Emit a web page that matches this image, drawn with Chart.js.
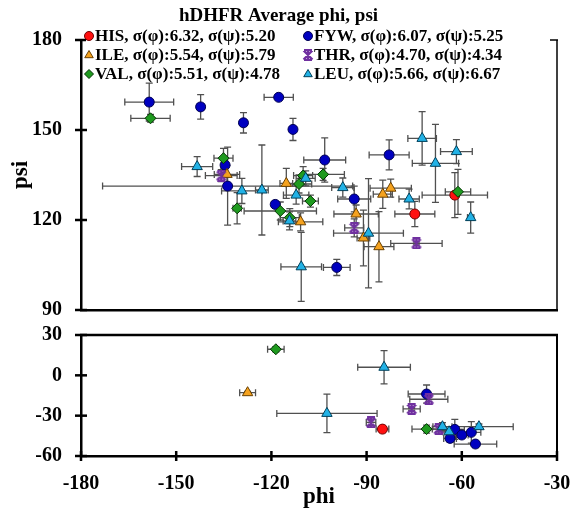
<!DOCTYPE html>
<html>
<head>
<meta charset="utf-8">
<script src="https://cdn.jsdelivr.net/npm/chart.js@4.4.1/dist/chart.umd.min.js"></script>
<style>
  html, body { margin: 0; padding: 0; background: #fff; }
  #wrap { position: relative; width: 571px; height: 518px; }
  #topChart { position: absolute; left: 0; top: 0; }
  #bottomChart { position: absolute; left: 0; top: 318px; }
</style>
</head>
<body>
<div id="wrap">
  <canvas id="topChart" width="571" height="322"></canvas>
  <canvas id="bottomChart" width="571" height="200"></canvas>
</div>
<script>
// each point: [phi, psi, phi error, psi error]
const his = [
    [-74.8, 122.0, 6.3, 4.2], [-62.2, 128.3, 10.3, 7.5],
    [-85.0, -40.0, 2.0, 1.0]
];
const fyw = [
    [-158.5, 159.3, 7.7, 6.3], [-142.3, 157.7, 1.0, 4.1], [-128.8, 152.4, 1.0, 3.4],
    [-117.7, 160.9, 4.6, 0.5], [-113.2, 150.2, 0.8, 3.7], [-103.2, 140.0, 6.6, 7.4],
    [-82.9, 141.7, 6.3, 5.0], [-134.6, 138.3, 1.0, 2.5], [-133.8, 131.3, 39.4, 13.0],
    [-118.8, 125.2, 1.0, 1.0], [-93.9, 127.0, 5.2, 4.3], [-99.4, 104.2, 4.2, 2.7],
    [-71.1, -13.9, 5.8, 6.7], [-62.2, -40.2, 3.0, 7.4], [-63.7, -46.9, 2.0, 3.0],
    [-60.0, -44.4, 2.0, 2.0], [-57.0, -42.4, 3.0, 8.0], [-55.7, -51.1, 6.7, 2.0]
];
const ile = [
    [-134.0, 135.2, 4.0, 3.0], [-115.3, 132.2, 2.0, 5.0], [-110.8, 119.4, 7.0, 3.0],
    [-93.3, 122.0, 7.0, 3.0], [-91.0, 114.0, 2.0, 9.3], [-86.1, 111.1, 4.7, 11.7],
    [-84.9, 128.6, 3.0, 4.7], [-82.4, 130.6, 6.5, 3.0],
    [-127.5, -12.9, 2.5, 1.0]
];
const thr = [
    [-135.8, 134.8, 5.0, 2.0], [-93.9, 117.4, 3.0, 3.0], [-74.3, 112.2, 8.1, 0.5],
    [-88.6, -35.0, 1.5, 2.5], [-70.4, -17.8, 6.0, 1.5], [-75.8, -25.0, 2.7, 1.0],
    [-67.3, -40.0, 2.0, 2.0]
];
const val = [
    [-158.1, 153.9, 6.2, 1.3], [-135.1, 140.6, 3.0, 3.3], [-130.8, 123.9, 1.3, 5.2],
    [-117.2, 123.0, 11.4, 3.0], [-114.2, 120.8, 3.0, 3.0], [-107.7, 126.3, 2.5, 2.0],
    [-103.7, 135.2, 6.7, 2.0], [-111.3, 132.0, 4.0, 3.0], [-110.0, 134.8, 3.0, 3.0],
    [-61.2, 129.4, 4.0, 7.5],
    [-118.6, 19.4, 2.6, 2.0], [-71.1, -40.0, 4.6, 3.0]
];
const leu = [
    [-143.4, 137.8, 4.9, 3.3], [-129.3, 129.7, 6.4, 4.2], [-123.0, 130.0, 2.0, 15.0],
    [-114.3, 119.7, 2.0, 3.0], [-112.2, 128.3, 4.0, 3.0], [-110.6, 104.4, 6.4, 11.5],
    [-109.2, 133.9, 3.0, 2.5], [-97.5, 130.8, 3.5, 3.2], [-89.4, 115.6, 11.0, 18.2],
    [-76.6, 127.0, 3.2, 3.3], [-72.5, 147.2, 4.5, 8.9], [-68.3, 138.9, 7.3, 13.0],
    [-61.7, 142.8, 5.0, 4.0], [-57.2, 120.8, 1.0, 5.2],
    [-102.5, -28.3, 15.8, 14.3], [-84.5, 6.0, 8.3, 12.4], [-66.1, -38.2, 3.0, 3.0],
    [-64.0, -42.0, 2.0, 2.0], [-54.6, -38.2, 10.8, 2.0]
];

const seriesNames = ["HIS", "FYW", "ILE", "THR", "VAL", "LEU"];
const sigmaPhi = [6.32, 6.07, 5.54, 4.70, 5.51, 5.66];
const sigmaPsi = [5.20, 5.25, 5.79, 4.34, 4.78, 6.67];
const seriesData = [his, fyw, ile, thr, val, leu];

const phiRange = [-180, -30];
const psiTopRange = [90, 180];
const psiBottomRange = [-60, 30];
const tickStep = 30;

const FONT = "'Liberation Serif', 'Times New Roman', serif";

// THR marker: purple asterisk with bars
function makeStar() {
    const c = document.createElement("canvas");
    c.width = 12; c.height = 12;
    const g = c.getContext("2d");
    g.strokeStyle = "#7030a0";
    g.lineWidth = 2.2;
    g.beginPath();
    g.moveTo(1.5, 1.5); g.lineTo(10.5, 10.5);
    g.moveTo(10.5, 1.5); g.lineTo(1.5, 10.5);
    g.moveTo(6, 1); g.lineTo(6, 11);
    g.moveTo(2, 1.2); g.lineTo(10, 1.2);
    g.moveTo(2, 10.8); g.lineTo(10, 10.8);
    g.stroke();
    return c;
}
const starImg = makeStar();

const styles = ["circle", "circle", "triangle", starImg, "rectRot", "triangle"];
const radii = [5, 5, 6, 6, 5.5, 6];
const fills = ["#ff1010", "#0000c0", "#f5a21e", "#7030a0", "#1f9a1f", "#22b2e6"];
const edges = ["#700000", "#000050", "#6a4000", "#7030a0", "#003300", "#00405a"];

function buildDatasets(keep) {
    return seriesNames.map((name, i) => ({
        label: `${name}, σ(φ):${sigmaPhi[i].toFixed(2)}, σ(ψ):${sigmaPsi[i].toFixed(2)}`,
        data: seriesData[i]
            .filter(p => keep(p[1]))
            .map(p => ({ x: p[0], y: p[1], xErr: p[2], yErr: p[3] })),
        order: seriesNames.length - 1 - i,   // later series drawn on top
        pointStyle: styles[i],
        pointRadius: radii[i],
        backgroundColor: fills[i],
        borderColor: edges[i],
        borderWidth: 1,
        showLine: false
    }));
}

/* error bars, drawn under the markers */
const errorBarPlugin = {
    id: "errorBars",
    beforeDatasetsDraw(chart) {
        const { ctx, chartArea: a, scales: { x, y } } = chart;
        const cap = 3.5;
        ctx.save();
        ctx.beginPath();
        ctx.rect(a.left, a.top, a.right - a.left, a.bottom - a.top);
        ctx.clip();
        ctx.strokeStyle = "#505050";
        ctx.lineWidth = 1.3;
        chart.data.datasets.forEach(ds => ds.data.forEach(p => {
            const px = x.getPixelForValue(p.x);
            const py = y.getPixelForValue(p.y);
            const x0 = x.getPixelForValue(p.x - p.xErr);
            const x1 = x.getPixelForValue(p.x + p.xErr);
            const y0 = y.getPixelForValue(p.y - p.yErr);
            const y1 = y.getPixelForValue(p.y + p.yErr);
            ctx.beginPath();
            ctx.moveTo(x0, py); ctx.lineTo(x1, py);
            ctx.moveTo(x0, py - cap); ctx.lineTo(x0, py + cap);
            ctx.moveTo(x1, py - cap); ctx.lineTo(x1, py + cap);
            ctx.moveTo(px, y0); ctx.lineTo(px, y1);
            ctx.moveTo(px - cap, y0); ctx.lineTo(px + cap, y0);
            ctx.moveTo(px - cap, y1); ctx.lineTo(px + cap, y1);
            ctx.stroke();
        }));
        ctx.restore();
    }
};

/* top/right frame and cross tick marks */
const framePlugin = {
    id: "frame",
    afterDatasetsDraw(chart, args, opts) {
        const { ctx, chartArea: a, scales } = chart;
        const line = (x0, y0, x1, y1, w) => {
            ctx.lineWidth = w;
            ctx.beginPath(); ctx.moveTo(x0, y0); ctx.lineTo(x1, y1); ctx.stroke();
        };
        ctx.save();
        ctx.strokeStyle = "#000";
        line(a.left - 1, a.top, a.right + 1, a.top, opts.topWidth);
        line(a.right, a.top, a.right, a.bottom, opts.rightWidth);
        scales.y.ticks.forEach(t => {
            const y = scales.y.getPixelForValue(t.value);
            line(a.left - 6, y, a.left + 6, y, 2.5);
        });
        if (opts.xTicks) {
            scales.x.ticks.forEach(t => {
                const x = scales.x.getPixelForValue(t.value);
                line(x, a.bottom - 5, x, a.bottom + 5, 2.5);
            });
        }
        ctx.restore();
    }
};

/* two-column legend sitting over the top of the plot */
function drawMarker(ctx, style, x, y, r, fill, edge) {
    if (typeof style !== "string") {
        ctx.drawImage(style, x - style.width / 2, y - style.height / 2);
        return;
    }
    ctx.fillStyle = fill;
    ctx.strokeStyle = edge;
    ctx.lineWidth = 1;
    ctx.beginPath();
    if (style === "circle") {
        ctx.arc(x, y, r, 0, Math.PI * 2);
    } else if (style === "triangle") {
        ctx.moveTo(x, y - r);
        ctx.lineTo(x + r * 0.95, y + r * 0.6);
        ctx.lineTo(x - r * 0.95, y + r * 0.6);
        ctx.closePath();
    } else {
        ctx.moveTo(x, y - r); ctx.lineTo(x + r, y);
        ctx.lineTo(x, y + r); ctx.lineTo(x - r, y);
        ctx.closePath();
    }
    ctx.fill();
    ctx.stroke();
}

const legendPlugin = {
    id: "boxLegend",
    afterDraw(chart, args, opts) {
        if (!opts.show) return;
        const { ctx } = chart;
        ctx.save();
        ctx.fillStyle = "#fff";
        ctx.fillRect(86, 27, 464, 55);
        ctx.font = `bold 17px ${FONT}`;
        ctx.textBaseline = "middle";
        chart.data.datasets.forEach((ds, i) => {
            const col = i % 2, row = Math.floor(i / 2);
            const mx = col === 0 ? 89 : 308;
            const my = 36 + row * 19;
            drawMarker(ctx, styles[i], mx, my, 4.5, fills[i], edges[i]);
            ctx.fillStyle = "#000";
            ctx.fillText(ds.label, mx + 6, my + 1);
        });
        ctx.restore();
    }
};

const tickFont = { family: FONT, size: 20, weight: "bold" };

function yAxis(range, withTitle) {
    return {
        type: "linear",
        min: range[0],
        max: range[1],
        ticks: { stepSize: tickStep, font: tickFont, color: "#000", padding: 19 },
        grid: { display: false, drawTicks: false },
        border: { display: true, color: "#000", width: 2.5 },
        title: {
            display: withTitle,
            text: "psi",
            font: { family: FONT, size: 23, weight: "bold" },
            color: "#000",
            padding: { top: 7, bottom: 0 }
        },
        afterFit(scale) {
            scale.width = 81;
            scale.paddingTop = 0;
            scale.paddingBottom = 0;
        }
    };
}

function xAxis(showLabels) {
    return {
        type: "linear",
        min: phiRange[0],
        max: phiRange[1],
        ticks: { display: showLabels, stepSize: tickStep, font: tickFont, color: "#000", padding: 16 },
        grid: { display: false, drawTicks: false },
        border: { display: true, color: "#000", width: 2.5 },
        title: {
            display: showLabels,
            text: "phi",
            font: { family: FONT, size: 23, weight: "bold" },
            color: "#000",
            padding: { top: 0, bottom: 7 }
        },
        afterFit(scale) {
            scale.height = showLabels ? 62 : 0;
            scale.paddingLeft = 0;
            scale.paddingRight = 0;
        }
    };
}

Chart.defaults.font.family = FONT;

new Chart(document.getElementById("topChart"), {
    type: "scatter",
    data: { datasets: buildDatasets(v => v > 60) },
    options: {
        responsive: false,
        animation: false,
        events: [],
        layout: { padding: { top: 0, right: 14, bottom: 12, left: 0 } },
        scales: { x: xAxis(false), y: yAxis(psiTopRange, true) },
        plugins: {
            legend: { display: false },
            tooltip: { enabled: false },
            title: {
                display: true,
                text: "hDHFR Average phi, psi",
                color: "#000",
                font: { family: FONT, size: 19, weight: "bold" },
                padding: { top: 5, bottom: 12.2 }
            },
            frame: { topWidth: 1.5, rightWidth: 1.5, xTicks: false },
            boxLegend: { show: true }
        }
    },
    plugins: [errorBarPlugin, framePlugin, legendPlugin]
});

new Chart(document.getElementById("bottomChart"), {
    type: "scatter",
    data: { datasets: buildDatasets(v => v < 60) },
    options: {
        responsive: false,
        animation: false,
        events: [],
        layout: { padding: { top: 17, right: 14, bottom: 0, left: 0 } },
        scales: { x: xAxis(true), y: yAxis(psiBottomRange, false) },
        plugins: {
            legend: { display: false },
            tooltip: { enabled: false },
            frame: { topWidth: 2.5, rightWidth: 2, xTicks: true },
            boxLegend: { show: false }
        }
    },
    plugins: [errorBarPlugin, framePlugin, legendPlugin]
});
</script>
</body>
</html>
